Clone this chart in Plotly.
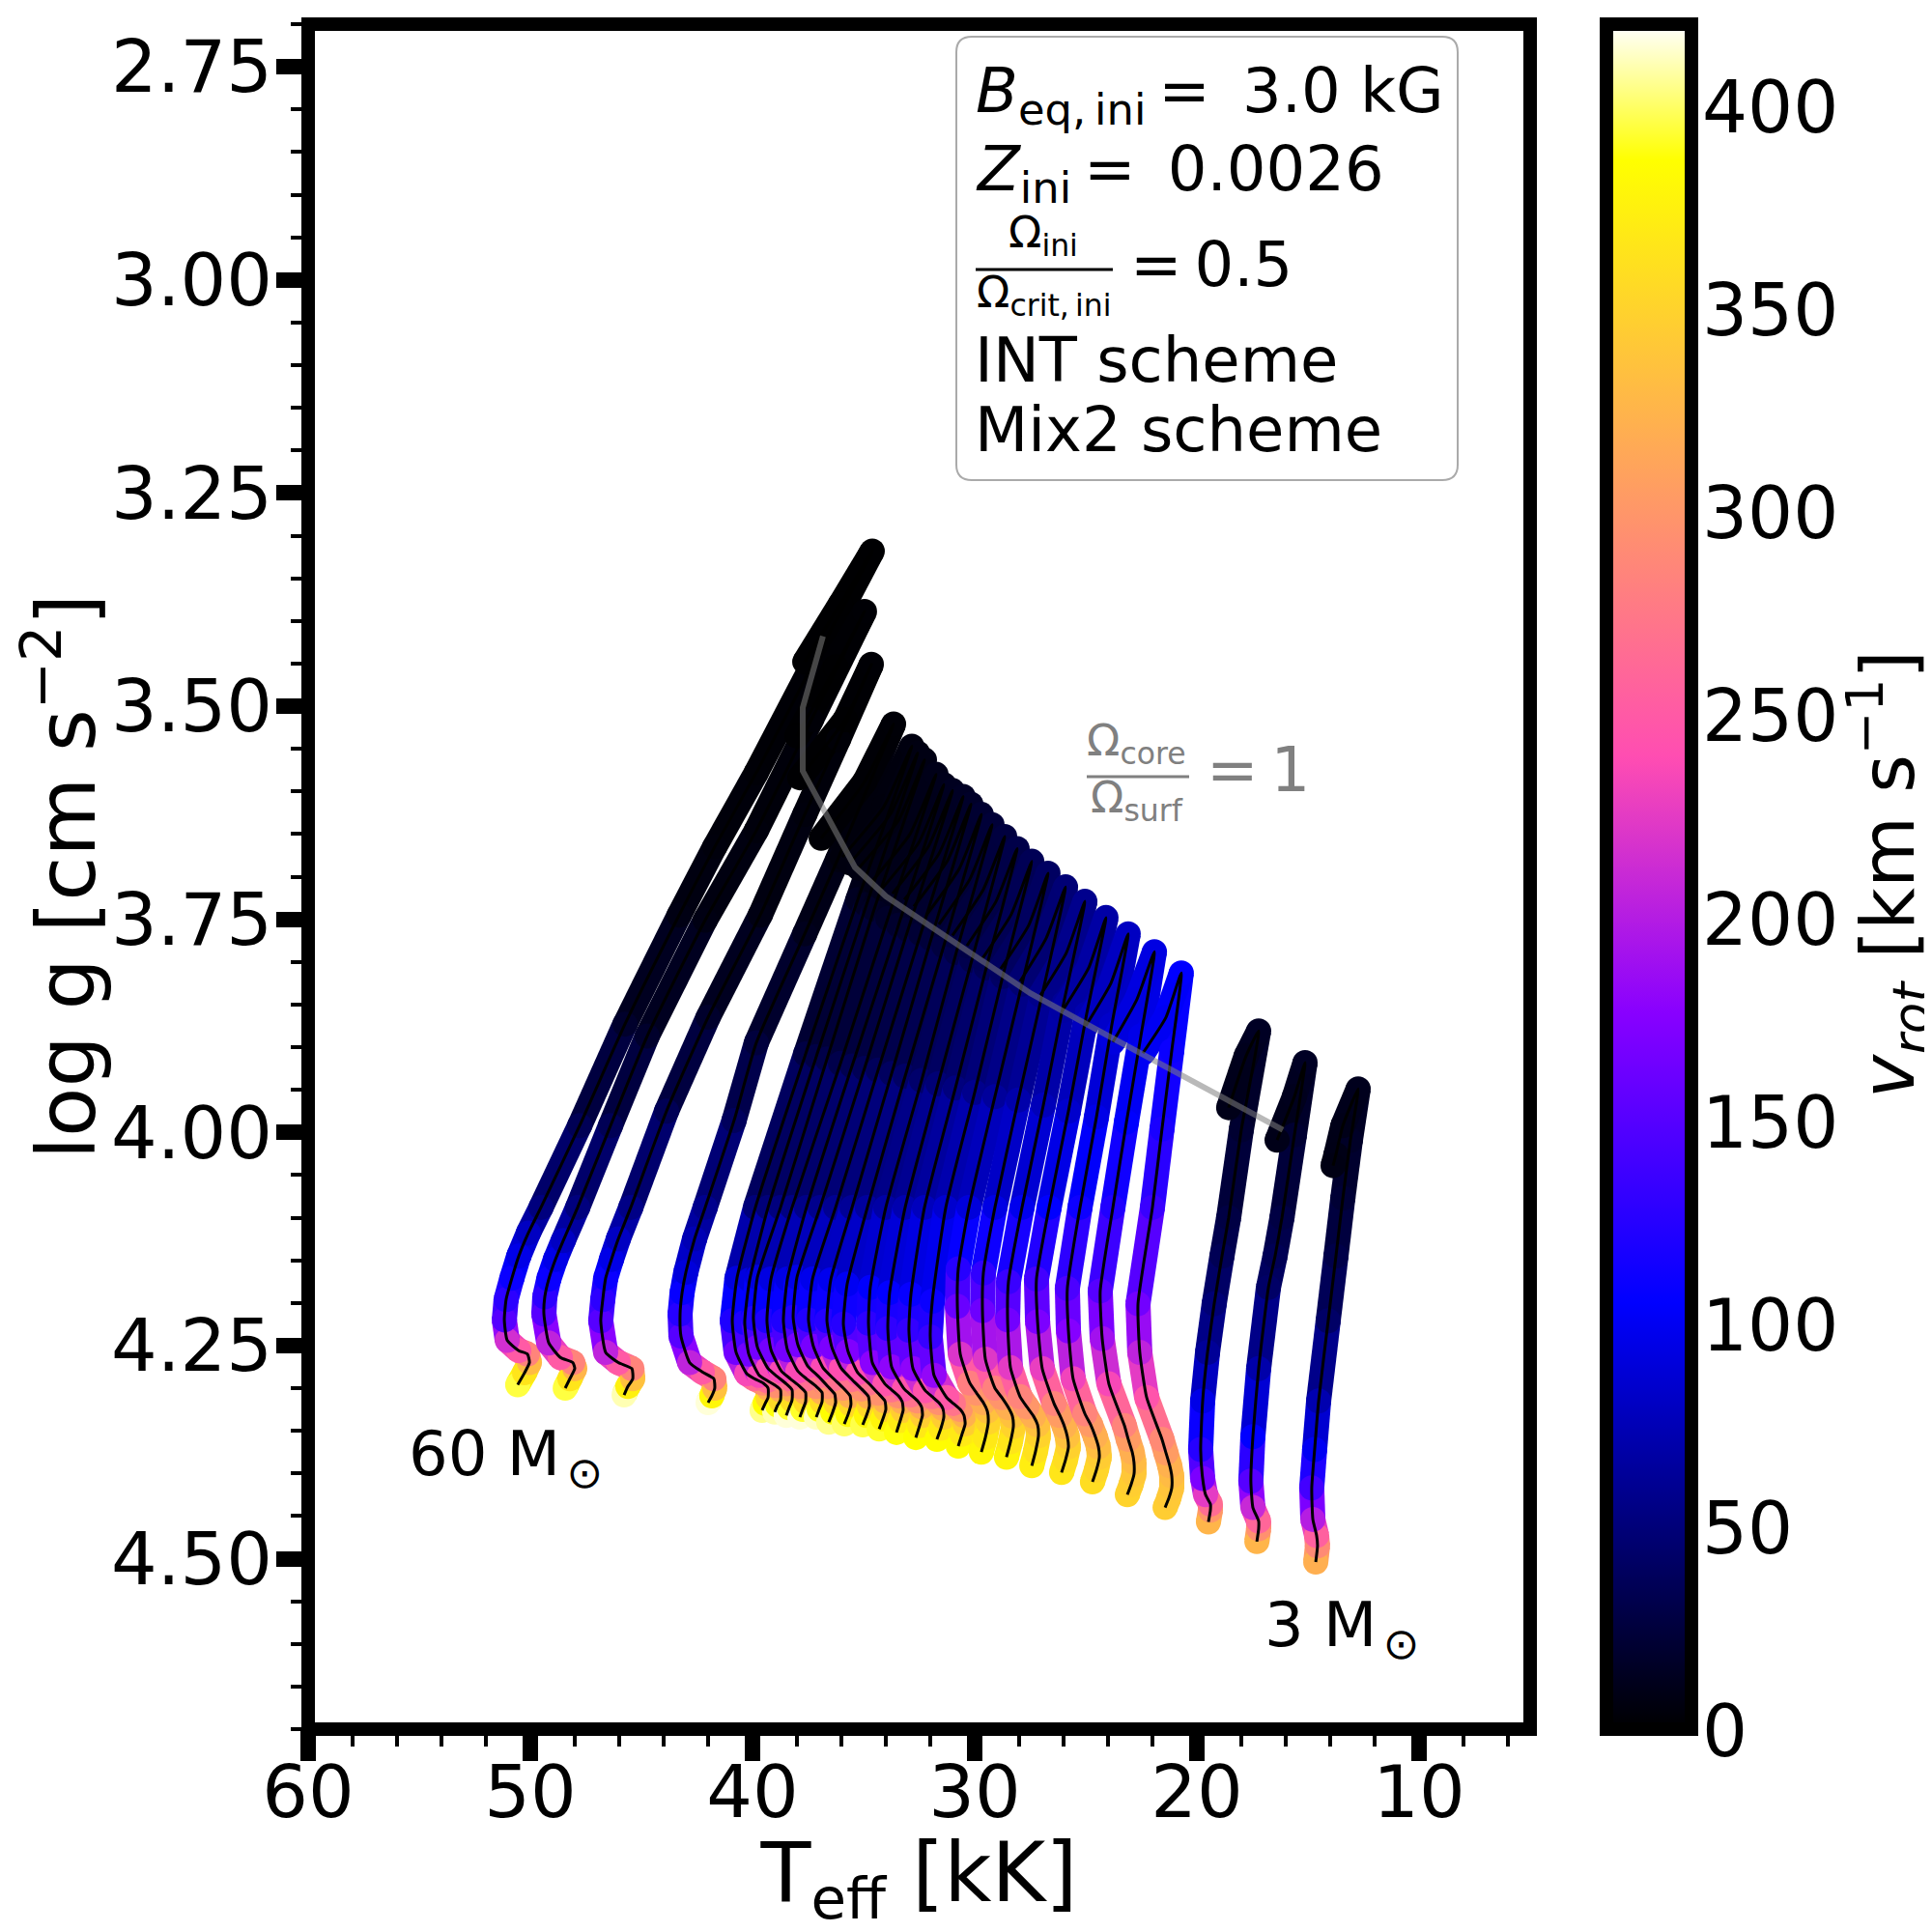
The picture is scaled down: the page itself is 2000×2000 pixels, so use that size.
# Rotation on the Kiel diagram: log g against Teff, tracks coloured by v_rot
import plotly.graph_objs as go
from plotly.colors import sample_colorscale

# track 01 is the 60 Msun model, track 27 the 3 Msun model
teff_01 = [50.57, 50.26, 50.04, 50.13, 50.52, 51.04, 51.17, 51.09, 50.83, 50.52, 50.09, 49.52, 47.78, 45.74, 43.30, 41.70, 39.83, 37.35, 34.61, 36.04, 37.65]
logg_01 = [4.296, 4.282, 4.270, 4.260, 4.256, 4.244, 4.220, 4.196, 4.171, 4.145, 4.118, 4.088, 3.992, 3.873, 3.745, 3.665, 3.578, 3.454, 3.318, 3.380, 3.448]
vrot_01 = [395, 365, 330, 285, 250, 215, 150, 128, 110, 95, 80, 52, 35, 18, 8, 5, 3, 2, 1, 1, 1]

teff_02 = [48.43, 48.22, 48.00, 48.09, 48.65, 49.17, 49.39, 49.35, 49.17, 48.87, 48.52, 47.87, 46.39, 44.74, 42.13, 39.83, 37.35, 34.96, 36.26, 38.00]
logg_02 = [4.300, 4.289, 4.277, 4.270, 4.264, 4.247, 4.213, 4.193, 4.172, 4.149, 4.127, 4.088, 3.992, 3.887, 3.751, 3.646, 3.516, 3.389, 3.454, 3.535]
vrot_02 = [395, 365, 325, 285, 250, 205, 150, 128, 110, 95, 80, 52, 35, 18, 8, 5, 3, 2, 1, 1]

teff_03 = [45.78, 45.61, 45.39, 45.43, 46.04, 46.61, 46.83, 46.74, 46.61, 46.35, 46.04, 45.48, 43.87, 42.00, 39.65, 37.65, 36.13, 34.65, 35.83, 37.87]
logg_03 = [4.308, 4.298, 4.289, 4.277, 4.270, 4.258, 4.221, 4.196, 4.171, 4.149, 4.125, 4.088, 3.975, 3.865, 3.745, 3.627, 3.539, 3.451, 3.516, 3.584]
vrot_03 = [410, 375, 335, 285, 250, 205, 150, 128, 110, 95, 80, 55, 35, 18, 8, 5, 3, 2, 1, 1]

teff_04 = [42.00, 41.83, 41.70, 41.74, 42.26, 42.83, 43.22, 43.26, 43.17, 43.00, 42.61, 42.13, 40.83, 39.83, 37.65, 36.17, 33.65, 34.96, 36.91]
logg_04 = [4.317, 4.309, 4.300, 4.289, 4.281, 4.270, 4.239, 4.213, 4.188, 4.164, 4.125, 4.088, 3.986, 3.895, 3.767, 3.680, 3.521, 3.589, 3.655]
vrot_04 = [415, 380, 335, 285, 250, 205, 150, 125, 108, 90, 74, 58, 38, 25, 12, 7, 3, 2, 2]

teff_05 = [39.57, 39.43, 39.30, 39.30, 39.52, 39.91, 40.26, 40.74, 40.91, 40.70, 39.87, 37.61, 35.26, 32.83, 34.09, 35.96]
logg_05 = [4.326, 4.318, 4.311, 4.300, 4.294, 4.289, 4.283, 4.258, 4.221, 4.171, 4.088, 3.908, 3.727, 3.547, 3.618, 3.677]
vrot_05 = [405, 385, 355, 320, 295, 265, 235, 165, 120, 92, 50, 28, 14, 6, 5, 5]

teff_06 = [39.00, 38.87, 38.74, 38.74, 38.96, 39.35, 39.70, 40.17, 40.35, 40.13, 39.30, 37.13, 34.87, 32.57, 33.78, 35.61]
logg_06 = [4.328, 4.320, 4.314, 4.302, 4.297, 4.291, 4.285, 4.260, 4.223, 4.173, 4.088, 3.911, 3.733, 3.555, 3.626, 3.684]
vrot_06 = [410, 388, 355, 320, 295, 265, 235, 165, 120, 92, 50, 29, 15, 7, 6, 6]

teff_07 = [38.48, 38.35, 38.22, 38.22, 38.48, 38.91, 39.30, 39.78, 39.96, 39.78, 38.74, 36.65, 34.52, 32.26, 33.43, 35.22]
logg_07 = [4.332, 4.323, 4.314, 4.302, 4.295, 4.286, 4.277, 4.252, 4.218, 4.170, 4.088, 3.914, 3.738, 3.563, 3.634, 3.690]
vrot_07 = [415, 392, 358, 322, 296, 266, 236, 166, 120, 92, 52, 30, 16, 8, 7, 7]

teff_08 = [37.87, 37.74, 37.61, 37.61, 37.87, 38.30, 38.70, 39.17, 39.35, 39.17, 38.22, 36.04, 33.91, 31.74, 32.91, 34.61]
logg_08 = [4.334, 4.325, 4.316, 4.305, 4.298, 4.289, 4.280, 4.255, 4.221, 4.172, 4.088, 3.919, 3.749, 3.580, 3.650, 3.705]
vrot_08 = [415, 392, 358, 322, 296, 266, 236, 166, 121, 93, 54, 31, 17, 10, 9, 9]

teff_09 = [37.13, 37.00, 36.87, 36.87, 37.13, 37.57, 37.96, 38.43, 38.61, 38.43, 37.57, 35.52, 33.43, 31.39, 32.52, 34.17]
logg_09 = [4.334, 4.325, 4.316, 4.305, 4.298, 4.289, 4.280, 4.255, 4.221, 4.172, 4.088, 3.922, 3.757, 3.592, 3.660, 3.714]
vrot_09 = [412, 390, 358, 322, 296, 266, 236, 166, 121, 94, 56, 33, 19, 11, 10, 10]

teff_10 = [36.57, 36.39, 36.26, 36.30, 36.61, 37.04, 37.52, 37.96, 38.17, 38.00, 36.96, 34.96, 33.00, 31.00, 32.09, 33.70]
logg_10 = [4.340, 4.328, 4.317, 4.307, 4.298, 4.286, 4.274, 4.249, 4.217, 4.170, 4.088, 3.925, 3.762, 3.599, 3.665, 3.720]
vrot_10 = [405, 385, 356, 322, 296, 268, 238, 168, 122, 96, 58, 35, 20, 13, 12, 12]

teff_11 = [35.87, 35.70, 35.57, 35.61, 35.91, 36.35, 36.83, 37.26, 37.48, 37.30, 36.26, 34.35, 32.43, 30.52, 31.61, 33.17]
logg_11 = [4.342, 4.331, 4.319, 4.309, 4.300, 4.289, 4.276, 4.251, 4.220, 4.172, 4.088, 3.927, 3.767, 3.606, 3.673, 3.727]
vrot_11 = [400, 382, 355, 322, 296, 268, 238, 168, 122, 97, 60, 37, 22, 15, 14, 14]

teff_12 = [35.04, 34.87, 34.74, 34.78, 35.09, 35.52, 36.00, 36.43, 36.65, 36.48, 35.52, 33.74, 31.96, 30.17, 31.22, 32.74]
logg_12 = [4.343, 4.332, 4.321, 4.310, 4.301, 4.290, 4.277, 4.252, 4.221, 4.173, 4.088, 3.931, 3.773, 3.615, 3.681, 3.735]
vrot_12 = [396, 380, 354, 322, 296, 270, 240, 170, 124, 98, 62, 39, 24, 17, 16, 16]

teff_13 = [34.30, 34.13, 34.00, 34.04, 34.35, 34.78, 35.26, 35.70, 35.91, 35.74, 34.83, 33.13, 31.39, 29.70, 30.70, 32.17]
logg_13 = [4.348, 4.336, 4.325, 4.315, 4.306, 4.294, 4.282, 4.257, 4.225, 4.178, 4.088, 3.934, 3.781, 3.627, 3.691, 3.745]
vrot_13 = [392, 378, 352, 322, 296, 270, 240, 172, 125, 100, 65, 41, 26, 20, 19, 19]

teff_14 = [33.52, 33.35, 33.22, 33.26, 33.43, 33.74, 34.04, 34.61, 34.78, 34.70, 34.00, 32.39, 30.83, 29.22, 30.22, 31.61]
logg_14 = [4.352, 4.338, 4.326, 4.316, 4.309, 4.302, 4.295, 4.270, 4.224, 4.182, 4.088, 3.939, 3.789, 3.639, 3.703, 3.756]
vrot_14 = [388, 370, 345, 320, 295, 270, 245, 178, 128, 104, 68, 44, 29, 23, 22, 22]

teff_15 = [32.65, 32.48, 32.35, 32.39, 32.57, 32.87, 33.17, 33.74, 33.91, 33.83, 33.13, 31.65, 30.13, 28.65, 29.61, 31.00]
logg_15 = [4.358, 4.344, 4.332, 4.322, 4.315, 4.308, 4.301, 4.275, 4.230, 4.188, 4.088, 3.943, 3.798, 3.653, 3.715, 3.769]
vrot_15 = [386, 368, 345, 320, 295, 270, 245, 180, 130, 106, 72, 48, 32, 26, 25, 25]

teff_16 = [31.70, 31.52, 31.39, 31.43, 31.61, 31.91, 32.22, 32.78, 32.96, 32.87, 32.26, 30.87, 29.48, 28.09, 29.04, 30.35]
logg_16 = [4.360, 4.347, 4.334, 4.324, 4.317, 4.310, 4.303, 4.277, 4.232, 4.190, 4.088, 3.948, 3.807, 3.667, 3.729, 3.781]
vrot_16 = [385, 368, 345, 320, 295, 270, 245, 180, 132, 108, 78, 52, 36, 30, 29, 29]

teff_17 = [30.74, 30.57, 30.43, 30.48, 30.65, 30.96, 31.26, 31.83, 32.00, 31.91, 31.30, 30.00, 28.74, 27.43, 28.35, 29.65]
logg_17 = [4.368, 4.354, 4.342, 4.332, 4.325, 4.318, 4.311, 4.285, 4.240, 4.198, 4.088, 3.953, 3.817, 3.682, 3.744, 3.796]
vrot_17 = [384, 368, 346, 322, 298, 272, 248, 182, 134, 110, 85, 58, 41, 35, 34, 34]

teff_18 = [29.70, 29.52, 29.39, 29.43, 29.61, 29.91, 30.22, 30.65, 30.78, 30.74, 30.26, 29.09, 27.87, 26.70, 27.57, 28.83]
logg_18 = [4.375, 4.358, 4.340, 4.327, 4.317, 4.306, 4.294, 4.260, 4.204, 4.160, 4.088, 3.958, 3.826, 3.696, 3.757, 3.808]
vrot_18 = [380, 368, 352, 335, 318, 298, 280, 220, 160, 125, 90, 64, 47, 40, 39, 39]

teff_19 = [28.57, 28.39, 28.26, 28.30, 28.48, 28.78, 29.09, 29.52, 29.65, 29.61, 29.09, 28.04, 26.96, 25.91, 26.78, 27.96]
logg_19 = [4.381, 4.363, 4.345, 4.333, 4.323, 4.311, 4.300, 4.266, 4.209, 4.165, 4.088, 3.962, 3.838, 3.712, 3.772, 3.823]
vrot_19 = [377, 365, 350, 335, 320, 298, 282, 222, 162, 130, 94, 70, 53, 48, 47, 47]

teff_20 = [27.43, 27.26, 27.13, 27.17, 27.35, 27.65, 27.96, 28.39, 28.52, 28.48, 27.87, 26.91, 26.00, 25.04, 25.87, 27.04]
logg_20 = [4.391, 4.374, 4.356, 4.343, 4.333, 4.322, 4.310, 4.276, 4.220, 4.175, 4.088, 3.968, 3.849, 3.729, 3.789, 3.839]
vrot_20 = [372, 362, 350, 335, 320, 300, 285, 225, 165, 135, 98, 76, 62, 58, 57, 57]

teff_21 = [26.09, 25.91, 25.78, 25.83, 25.96, 26.17, 26.43, 26.96, 27.17, 27.22, 26.65, 25.78, 24.96, 24.09, 24.87, 26.04]
logg_21 = [4.399, 4.384, 4.369, 4.357, 4.345, 4.332, 4.318, 4.277, 4.222, 4.172, 4.088, 3.975, 3.861, 3.748, 3.807, 3.857]
vrot_21 = [366, 358, 348, 335, 322, 305, 285, 228, 170, 140, 105, 84, 72, 68, 67, 67]

teff_22 = [24.70, 24.52, 24.39, 24.43, 24.57, 24.78, 25.04, 25.57, 25.78, 25.83, 25.26, 24.52, 23.83, 23.09, 23.87, 25.00]
logg_22 = [4.410, 4.396, 4.381, 4.369, 4.357, 4.343, 4.330, 4.289, 4.233, 4.183, 4.088, 3.982, 3.874, 3.767, 3.825, 3.875]
vrot_22 = [358, 352, 344, 332, 320, 303, 285, 232, 175, 145, 112, 95, 83, 80, 79, 79]

teff_23 = [23.13, 22.96, 22.83, 22.83, 22.91, 23.09, 23.26, 23.96, 24.26, 24.35, 23.78, 23.17, 22.52, 21.91, 22.70, 23.78]
logg_23 = [4.425, 4.413, 4.401, 4.387, 4.375, 4.360, 4.344, 4.295, 4.242, 4.186, 4.088, 3.988, 3.887, 3.788, 3.844, 3.894]
vrot_23 = [350, 346, 340, 330, 320, 305, 285, 235, 190, 150, 122, 105, 96, 93, 92, 92]

teff_24 = [21.43, 21.26, 21.13, 21.13, 21.22, 21.39, 21.57, 22.26, 22.57, 22.65, 22.00, 21.57, 21.13, 20.70, 21.39, 22.43]
logg_24 = [4.440, 4.429, 4.417, 4.403, 4.391, 4.376, 4.360, 4.311, 4.258, 4.201, 4.088, 3.996, 3.904, 3.813, 3.865, 3.907]
vrot_24 = [345, 342, 338, 330, 322, 305, 290, 245, 205, 165, 135, 118, 110, 105, 100, 100]

teff_25 = [19.48, 19.39, 19.39, 19.61, 19.74, 19.83, 19.74, 19.52, 19.22, 18.87, 18.57, 18.00, 17.22, 17.78, 18.57]
logg_25 = [4.457, 4.443, 4.436, 4.425, 4.406, 4.372, 4.315, 4.258, 4.201, 4.145, 4.100, 3.997, 3.881, 3.910, 3.971]
vrot_25 = [325, 300, 265, 225, 170, 125, 95, 62, 48, 35, 28, 20, 15, 12, 10]

teff_26 = [17.30, 17.22, 17.22, 17.48, 17.57, 17.48, 17.22, 16.78, 16.48, 16.17, 15.61, 15.13, 15.61, 16.39]
logg_26 = [4.480, 4.465, 4.456, 4.440, 4.409, 4.357, 4.277, 4.182, 4.145, 4.100, 4.003, 3.918, 3.958, 4.009]
vrot_26 = [325, 295, 260, 210, 150, 105, 70, 42, 35, 28, 20, 15, 12, 10]

teff_27 = [14.65, 14.57, 14.61, 14.78, 14.83, 14.70, 14.52, 14.09, 13.74, 13.43, 13.09, 12.74, 13.43, 13.74, 13.87]
logg_27 = [4.504, 4.485, 4.473, 4.454, 4.417, 4.372, 4.315, 4.221, 4.145, 4.077, 4.009, 3.949, 3.992, 4.026, 4.039]
vrot_27 = [320, 290, 255, 200, 140, 100, 72, 42, 30, 22, 16, 12, 10, 9, 8]

# line where core and surface rotate at the same rate
teff_omega = [36.83, 37.74, 37.74, 35.39, 34.00, 33.09, 30.70, 27.48, 24.61, 20.96, 16.13]
logg_omega = [3.418, 3.502, 3.576, 3.689, 3.723, 3.739, 3.782, 3.837, 3.878, 3.929, 3.997]

vrot_ticks = [0, 50, 100, 150, 200, 250, 300, 350, 400]

tracks = [
    (teff_01, logg_01, vrot_01), (teff_02, logg_02, vrot_02), (teff_03, logg_03, vrot_03),
    (teff_04, logg_04, vrot_04), (teff_05, logg_05, vrot_05), (teff_06, logg_06, vrot_06),
    (teff_07, logg_07, vrot_07), (teff_08, logg_08, vrot_08), (teff_09, logg_09, vrot_09),
    (teff_10, logg_10, vrot_10), (teff_11, logg_11, vrot_11), (teff_12, logg_12, vrot_12),
    (teff_13, logg_13, vrot_13), (teff_14, logg_14, vrot_14), (teff_15, logg_15, vrot_15),
    (teff_16, logg_16, vrot_16), (teff_17, logg_17, vrot_17), (teff_18, logg_18, vrot_18),
    (teff_19, logg_19, vrot_19), (teff_20, logg_20, vrot_20), (teff_21, logg_21, vrot_21),
    (teff_22, logg_22, vrot_22), (teff_23, logg_23, vrot_23), (teff_24, logg_24, vrot_24),
    (teff_25, logg_25, vrot_25), (teff_26, logg_26, vrot_26), (teff_27, logg_27, vrot_27),
]

# gnuplot2
cmap = [[0, 'rgb(0,0,0)'], [0.25, 'rgb(0,0,255)'], [0.42, 'rgb(136,0,255)'],
        [0.57, 'rgb(255,77,178)'], [0.92, 'rgb(255,255,0)'], [1, 'rgb(255,255,255)']]
vmax = 420
font = 'DejaVu Sans'
marksize = 26

# plot area in picture pixels; the page body adds 8 px on the top and left
left, right, top, bottom = 319, 1584, 25, 1790
body = 8


def xp(px):
    return (px - left) / (right - left)


def yp(py):
    return (bottom - py) / (bottom - top)


data = []
# coloured bands first, thin lines over all of them
for teff, logg, vrot in tracks:
    for i in range(len(teff) - 1):
        mean = (vrot[i] + vrot[i + 1]) / 2
        colour = sample_colorscale(cmap, mean / vmax)[0]
        data.append(go.Scatter(x=teff[i:i + 2], y=logg[i:i + 2], mode='lines',
                               line=dict(color=colour, width=marksize),
                               showlegend=False, hoverinfo='skip'))
    data.append(go.Scatter(x=teff, y=logg, mode='markers', showlegend=False,
                           marker=dict(color=vrot, colorscale=cmap, cmin=0, cmax=vmax,
                                       size=marksize, line=dict(width=0))))

for teff, logg, vrot in tracks:
    data.append(go.Scatter(x=teff, y=logg, mode='lines', showlegend=False, hoverinfo='skip',
                           line=dict(color='black', width=3, shape='spline', smoothing=0.5)))

data.append(go.Scatter(x=teff_omega, y=logg_omega, mode='lines', showlegend=False,
                       line=dict(color='rgba(128,128,128,0.55)', width=6)))

# only here for the colour bar
data.append(go.Scatter(x=[None], y=[None], mode='markers', showlegend=False,
                       marker=dict(color=[0], colorscale=cmap, cmin=0, cmax=vmax, showscale=True,
                                   colorbar=dict(x=xp(1663), xanchor='left', xpad=0, ypad=0,
                                                 y=0.5, yanchor='middle', len=1, lenmode='fraction',
                                                 thickness=88, thicknessmode='pixels',
                                                 outlinewidth=14, outlinecolor='black',
                                                 tickvals=vrot_ticks, ticks='', showticklabels=False))))


def label(text, px, py, size=64, colour='black', anchor='left', angle=0):
    return dict(text=text, x=xp(px), y=yp(py), xref='paper', yref='paper', showarrow=False,
                xanchor=anchor, yanchor='middle', textangle=angle,
                font=dict(family=font, size=size, color=colour))


notes = [
    label('<i>B</i><sub>eq,\u2009ini</sub>\u2009= \u20093.0 kG', 1008, 98),
    label('<i>Z</i><sub>ini</sub>\u2009= \u20090.0026', 1008, 179),
    label('Ω<sub>ini</sub>', 1080, 243, size=45, anchor='center'),
    label('Ω<sub>crit,\u2009ini</sub>', 1081, 305, size=45, anchor='center'),
    label('=\u20090.5', 1168, 274),
    label('INT scheme', 1007, 373),
    label('Mix2 scheme', 1007, 445),
    label('Ω<sub>core</sub>', 1176, 769, size=45, colour='gray', anchor='center'),
    label('Ω<sub>surf</sub>', 1177, 828, size=45, colour='gray', anchor='center'),
    label('=\u20091', 1247, 797, colour='gray'),
    label('60 M\u200a<sub>⊙</sub>', 421, 1509),
    label('3 M\u200a<sub>⊙</sub>', 1307, 1686),
    label('<i>v<sub>rot</sub></i> [km s<sup>−1</sup>]', 1955, 905, size=76, anchor='center', angle=-90),
]
for v in vrot_ticks:
    # labels sit closer to the bar than plotly's colorbar allows
    notes.append(label(str(v), 1760, bottom - v * (bottom - top) / vmax + 2, size=74))


def rounded_box(x0, y0, x1, y1, r):
    # legend frame with the corners of a fancy box
    return (f'M {xp(x0 + r)} {yp(y0)} L {xp(x1 - r)} {yp(y0)} Q {xp(x1)} {yp(y0)} {xp(x1)} {yp(y0 + r)} '
            f'L {xp(x1)} {yp(y1 - r)} Q {xp(x1)} {yp(y1)} {xp(x1 - r)} {yp(y1)} '
            f'L {xp(x0 + r)} {yp(y1)} Q {xp(x0)} {yp(y1)} {xp(x0)} {yp(y1 - r)} '
            f'L {xp(x0)} {yp(y0 + r)} Q {xp(x0)} {yp(y0)} {xp(x0 + r)} {yp(y0)} Z')


shapes = [
    dict(type='rect', xref='paper', yref='paper', x0=0, x1=1, y0=0, y1=1,
         line=dict(color='black', width=14), layer='above'),
    dict(type='path', xref='paper', yref='paper', path=rounded_box(990, 38, 1509, 497, 16),
         line=dict(color='#aaaaaa', width=2), layer='above'),
    dict(type='line', xref='paper', yref='paper', x0=xp(1010), x1=xp(1152), y0=yp(279), y1=yp(279),
         line=dict(color='black', width=3)),
    dict(type='line', xref='paper', yref='paper', x0=xp(1125), x1=xp(1231), y0=yp(804), y1=yp(804),
         line=dict(color='gray', width=3)),
]

layout = go.Layout(
    width=2000 - body, height=2000 - body,
    margin=dict(l=left - body, r=2000 - right, t=top - body, b=2000 - bottom, autoexpand=False),
    paper_bgcolor='white', plot_bgcolor='white',
    font=dict(family=font, color='black'),
    showlegend=False,
    annotations=notes,
    shapes=shapes,
    xaxis=dict(range=[60, 5], tick0=10, dtick=10, ticks='outside', ticklen=32, tickwidth=16,
               tickcolor='black', showgrid=False, zeroline=False, showline=False,
               ticklabelstandoff=-32,
               tickfont=dict(family=font, size=75, color='black'),
               minor=dict(tick0=0, dtick=2, ticks='outside', ticklen=17, tickwidth=4, tickcolor='black',
                          showgrid=False),
               title=dict(text='T<sub>eff</sub> [kK]', font=dict(family=font, size=85, color='black'), standoff=0)),
    yaxis=dict(range=[4.7, 2.7], tick0=2.75, dtick=0.25, tickformat='.2f', ticks='outside', ticklen=32,
               tickwidth=16, tickcolor='black', showgrid=False, zeroline=False, showline=False,
               ticklabelstandoff=-11,
               tickfont=dict(family=font, size=75, color='black'),
               minor=dict(tick0=2.7, dtick=0.05, ticks='outside', ticklen=17, tickwidth=4, tickcolor='black',
                          showgrid=False),
               title=dict(text='log g [cm s<sup>−2</sup>]', font=dict(family=font, size=84, color='black'), standoff=28)),
)

fig = go.Figure(data=data, layout=layout)
fig.write_html("out.html")
